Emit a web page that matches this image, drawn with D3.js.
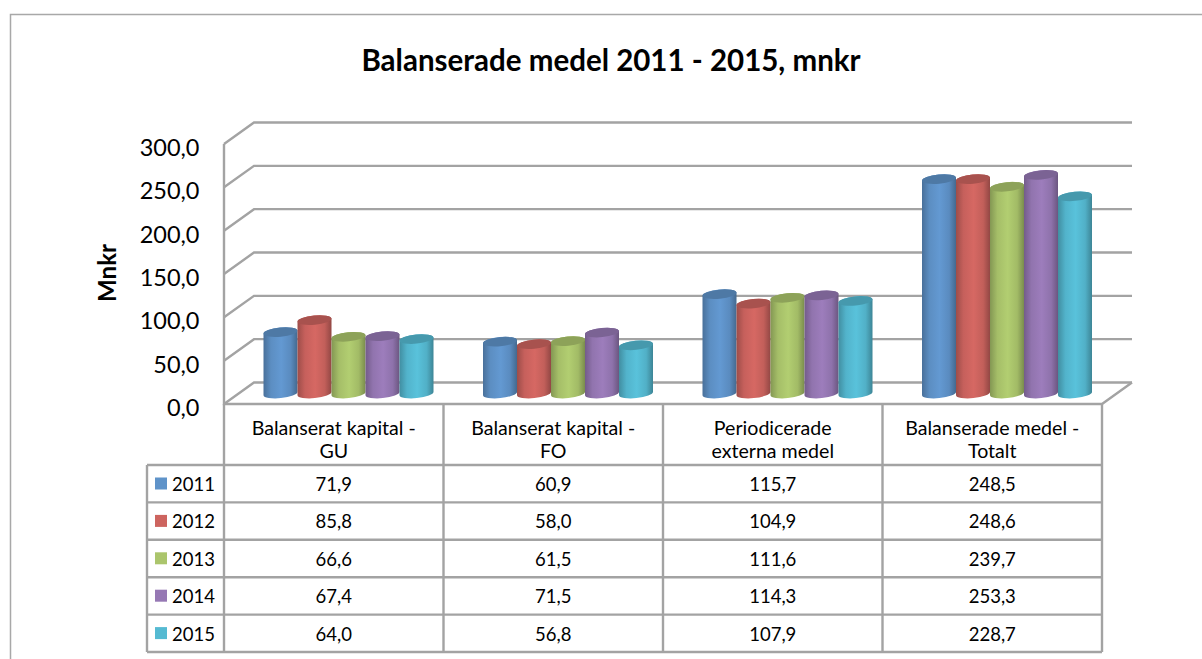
<!DOCTYPE html>
<html>
<head>
<meta charset="utf-8">
<script src="https://cdnjs.cloudflare.com/ajax/libs/d3/7.8.5/d3.min.js"></script>
<style>
  html, body { margin: 0; padding: 0; background: #fff; overflow: hidden; }
  svg { display: block; }
  text { font-family: Lato, "Open Sans", sans-serif; fill: #000; }
  .grid { fill: none; stroke: #a3a3a3; stroke-width: 2.4; }
  .tbl { fill: none; stroke: #a3a3a3; stroke-width: 2.4; }
  .ytick text { font-size: 23.5px; }
  .cell { font-size: 18.5px; text-anchor: middle; }
  .head { font-size: 19.6px; }
</style>
</head>
<body>
<script>
//data
var categories = [
    ["Balanserat kapital -", "GU"],
    ["Balanserat kapital -", "FO"],
    ["Periodicerade", "externa medel"],
    ["Balanserade medel -", "Totalt"]
];
var years = ["2011", "2012", "2013", "2014", "2015"];
var values2011 = [71.9, 60.9, 115.7, 248.5];
var values2012 = [85.8, 58.0, 104.9, 248.6];
var values2013 = [66.6, 61.5, 111.6, 239.7];
var values2014 = [67.4, 71.5, 114.3, 253.3];
var values2015 = [64.0, 56.8, 107.9, 228.7];
var series = [values2011, values2012, values2013, values2014, values2015];
var colors = ["#5f93c9", "#cd645f", "#abc56c", "#9678b4", "#55bad2"];
var yTicks = [0, 50, 100, 150, 200, 250, 300];

var width = 1202, height = 659;
var comma = function (v) { return v.toFixed(1).replace(".", ","); };

//layout: front plane of the chart box and the shift to the back wall
var frontLeft = 224, frontRight = 1102, frontBottom = 404, frontTop = 144;
var depthX = 30, depthY = 21.5;
var tableLeft = 147, headerBottom = 465, tableBottom = 652;

//scales
var y = d3.scaleLinear().domain([0, 300]).range([frontBottom, frontTop]);
var col = d3.scaleBand().domain(d3.range(categories.length)).range([frontLeft, frontRight]);
var row = d3.scaleBand().domain(years).range([headerBottom, tableBottom]);
var groupPad = 39.5;
var barBand = d3.scaleBand().domain(years).range([0, 170]);
var barShift = function (i) { return col(i) + groupPad; };
var barBase = 9.5; // bars sit this far behind the front floor edge

var svg = d3.select("body").append("svg")
    .attr("width", width)
    .attr("height", height);

var defs = svg.append("defs");
colors.forEach(function (c, i) {
    var g = defs.append("linearGradient").attr("id", "cyl" + i);
    var base = d3.color(c);
    g.append("stop").attr("offset", "0%").attr("stop-color", base.darker(0.75));
    g.append("stop").attr("offset", "22%").attr("stop-color", base.darker(0.1));
    g.append("stop").attr("offset", "52%").attr("stop-color", base.brighter(0.12));
    g.append("stop").attr("offset", "80%").attr("stop-color", base.darker(0.15));
    g.append("stop").attr("offset", "100%").attr("stop-color", base.darker(0.95));
});

//outer frame, only top and left are in the crop
svg.append("path")
    .attr("d", "M10.5," + height + "V14.5H" + width)
    .attr("fill", "none")
    .attr("stroke", "#a8a8a8")
    .attr("stroke-width", 1.5);

//title
svg.append("text")
    .attr("x", 611)
    .attr("y", 71)
    .attr("text-anchor", "middle")
    .style("font-size", "29.5px")
    .style("font-weight", "700")
    .text("Balanserade medel 2011 - 2015, mnkr");

svg.append("text")
    .attr("transform", "translate(116,273) rotate(-90)")
    .attr("text-anchor", "middle")
    .style("font-size", "24px")
    .style("font-weight", "700")
    .text("Mnkr");

//walls
var grid = svg.append("g").attr("class", "walls");
grid.selectAll(".grid.h")
    .data(yTicks)
    .enter().append("path")
    .attr("class", "grid h")
    .attr("d", function (d) {
        return "M" + frontLeft + "," + y(d) +
            "L" + (frontLeft + depthX) + "," + (y(d) - depthY) +
            "H" + (frontRight + depthX);
    });
grid.append("path")
    .attr("class", "grid")
    .attr("d", "M" + frontLeft + "," + y(300) + "V" + y(0) +
        "H" + frontRight + "L" + (frontRight + depthX) + "," + (y(0) - depthY));

//y labels
var yAxis = d3.axisLeft(y).tickValues(yTicks).tickSize(0).tickPadding(0).tickFormat(comma);
svg.append("g")
    .attr("class", "ytick")
    .attr("transform", "translate(199.5,4)")
    .call(yAxis)
    .call(function (g) { g.select(".domain").remove(); });

//cylinders
var rx = barBand.bandwidth() / 2, ry = 4.6, tilt = -5.5;
var slope = rx * Math.sin(tilt * Math.PI / 180);
var bars = [];
categories.forEach(function (c, i) {
    years.forEach(function (yr, s) {
        bars.push({ cat: i, ser: s, year: yr, value: series[s][i] });
    });
});
var bar = svg.append("g").selectAll(".bar")
    .data(bars)
    .enter().append("g")
    .attr("class", "bar")
    .attr("transform", function (d) {
        return "translate(" + (barShift(d.cat) + barBand(d.year) + rx) + ",0)";
    });
bar.append("path")
    .attr("fill", function (d) { return "url(#cyl" + d.ser + ")"; })
    .attr("d", function (d) {
        var top = y(d.value) - barBase, bottom = y(0) - barBase - 1;
        var arc = "A" + rx + "," + ry + " " + tilt + " 0 0 ";
        return "M" + (-rx) + "," + (top - slope) +
            "V" + (bottom - slope) +
            arc + rx + "," + (bottom + slope) +
            "V" + (top + slope) +
            arc + (-rx) + "," + (top - slope) + "Z";
    });
bar.append("ellipse")
    .attr("rx", rx)
    .attr("ry", ry)
    .attr("fill", function (d) { return d3.color(colors[d.ser]).darker(0.55); })
    .attr("transform", function (d) {
        return "translate(0," + (y(d.value) - barBase) + ") rotate(" + tilt + ")";
    });

//data table
var table = svg.append("g");
var colEdges = d3.range(categories.length).map(col).concat(frontRight);
colEdges.forEach(function (x) {
    table.append("line").attr("class", "tbl")
        .attr("x1", x).attr("x2", x).attr("y1", frontBottom).attr("y2", tableBottom);
});
table.append("line").attr("class", "tbl")
    .attr("x1", tableLeft).attr("x2", tableLeft).attr("y1", headerBottom).attr("y2", tableBottom);
years.concat(null).forEach(function (yr) {
    var yy = yr === null ? tableBottom : row(yr);
    table.append("line").attr("class", "tbl")
        .attr("x1", tableLeft).attr("x2", frontRight).attr("y1", yy).attr("y2", yy);
});

categories.forEach(function (lines, i) {
    lines.forEach(function (t, k) {
        table.append("text").attr("class", "cell head")
            .attr("x", col(i) + col.bandwidth() / 2)
            .attr("y", 435 + k * 23)
            .text(t);
    });
});

var rows = table.selectAll(".row")
    .data(years)
    .enter().append("g")
    .attr("class", "row")
    .attr("transform", function (d) { return "translate(0," + row(d) + ")"; });
rows.append("rect")
    .attr("x", 155).attr("y", 12.5)
    .attr("width", 12).attr("height", 12)
    .attr("fill", function (d, s) { return colors[s]; });
rows.append("text")
    .attr("x", 172).attr("y", 26)
    .style("font-size", "18.5px")
    .text(function (d) { return d; });
rows.each(function (d, s) {
    d3.select(this).selectAll(".cell")
        .data(series[s])
        .enter().append("text")
        .attr("class", "cell")
        .attr("x", function (v, i) { return col(i) + col.bandwidth() / 2; })
        .attr("y", 26)
        .text(comma);
});
</script>
</body>
</html>
